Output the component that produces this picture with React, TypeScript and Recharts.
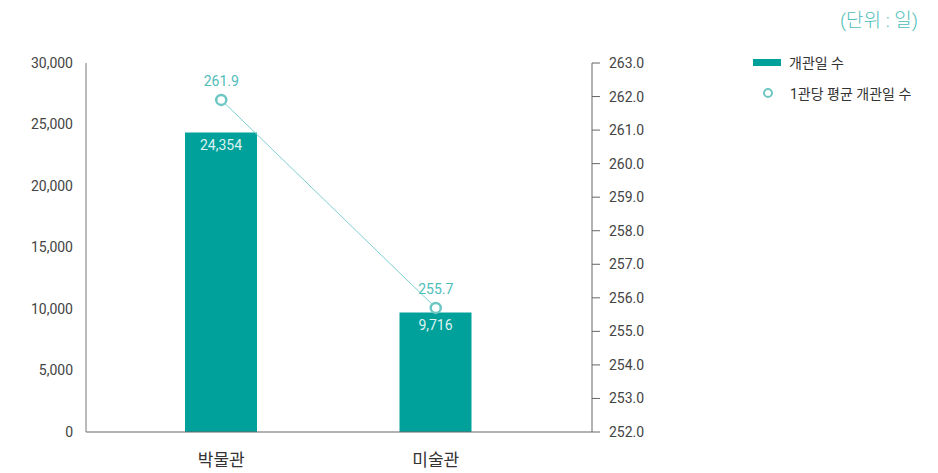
import React from "react";
import {
  ComposedChart,
  Bar,
  Line,
  XAxis,
  YAxis,
  LabelList,
} from "recharts";

const categories = ["박물관", "미술관"];
const openDays = [24354, 9716];
const avgOpenDays = [261.9, 255.7];
const leftTicks = [0, 5000, 10000, 15000, 20000, 25000, 30000];
const rightTicks = [252, 253, 254, 255, 256, 257, 258, 259, 260, 261, 262, 263];

const BAR_COLOR = "#00a19a";
const LINE_COLOR = "#7fd0ce";
const DOT_COLOR = "#6cc7c3";
const FONT = "Roboto, 'Noto Sans CJK KR', sans-serif";

const data = categories.map((name, i) => ({
  name,
  days: openDays[i],
  avg: avgOpenDays[i],
}));

// legend sits top-right, outside the plot area
function LegendBox() {
  return (
    <div
      style={{
        position: "absolute",
        left: 753,
        top: 52,
        fontFamily: FONT,
        fontSize: 14,
        color: "#333",
      }}
    >
      <div style={{ display: "flex", alignItems: "center", height: 20 }}>
        <span
          style={{
            display: "inline-block",
            width: 28,
            height: 7,
            background: BAR_COLOR,
            marginRight: 8,
          }}
        />
        개관일 수
      </div>
      <div style={{ display: "flex", alignItems: "center", height: 20, marginTop: 11 }}>
        <span
          style={{
            display: "inline-block",
            width: 6,
            height: 6,
            borderRadius: "50%",
            border: `2.5px solid ${DOT_COLOR}`,
            marginLeft: 10,
            marginRight: 17,
          }}
        />
        1관당 평균 개관일 수
      </div>
    </div>
  );
}

export default function App() {
  return (
    <div style={{ position: "relative", width: 938, height: 473, fontFamily: FONT }}>
      <style>{"body{margin:0}"}</style>
      <div
        style={{
          position: "absolute",
          right: 20,
          top: 5,
          fontSize: 19,
          fontWeight: 300,
          color: "#4fbdb9",
        }}
      >
        (단위 : 일)
      </div>
      <LegendBox />
      <ComposedChart
        width={938}
        height={473}
        data={data}
        margin={{ top: 63, right: 0, bottom: 11, left: 0 }}
      >
        <XAxis
          dataKey="name"
          height={30}
          padding={{ left: 28, right: 49 }}
          tickLine={false}
          tickMargin={16}
          axisLine={{ stroke: "#666" }}
          tick={{ fill: "#333", fontSize: 17, fontFamily: FONT }}
        />
        <YAxis
          yAxisId="left"
          width={86}
          domain={[0, 30000]}
          ticks={leftTicks}
          tickLine={false}
          tickMargin={7}
          axisLine={{ stroke: "#777" }}
          tickFormatter={(v: number) => v.toLocaleString("en-US")}
          tick={{ fill: "#444", fontSize: 14, fontFamily: FONT }}
        />
        <YAxis
          yAxisId="right"
          orientation="right"
          width={346}
          domain={[252, 263]}
          ticks={rightTicks}
          tickSize={8}
          tickMargin={9}
          tickLine={{ stroke: "#666" }}
          axisLine={{ stroke: "#666" }}
          tickFormatter={(v: number) => v.toFixed(1)}
          tick={{ fill: "#444", fontSize: 14, fontFamily: FONT }}
        />
        <Bar
          yAxisId="left"
          dataKey="days"
          fill={BAR_COLOR}
          barSize={72}
          isAnimationActive={false}
        >
          <LabelList
            dataKey="days"
            position="insideTop"
            offset={8}
            fill="#dff3f1"
            fontSize={14}
            fontFamily={FONT}
            formatter={(v: any) => Number(v).toLocaleString("en-US")}
          />
        </Bar>
        <Line
          yAxisId="right"
          dataKey="avg"
          stroke={LINE_COLOR}
          strokeWidth={1}
          dot={{ r: 5, stroke: DOT_COLOR, strokeWidth: 2.5, fill: "#fff" }}
          activeDot={false}
          isAnimationActive={false}
        >
          <LabelList
            dataKey="avg"
            position="top"
            offset={14}
            fill="#4fbdb9"
            fontSize={14}
            fontFamily={FONT}
            formatter={(v: any) => Number(v).toFixed(1)}
          />
        </Line>
      </ComposedChart>
    </div>
  );
}
